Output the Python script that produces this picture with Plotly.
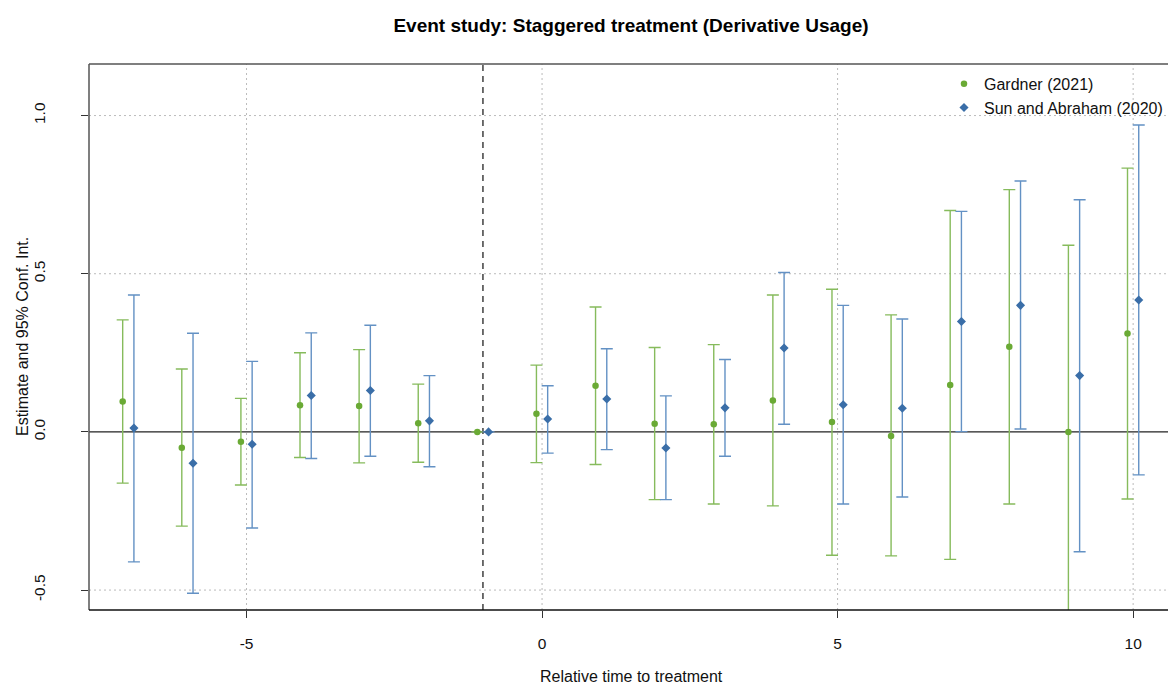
import plotly.graph_objects as go

periods = [-7, -6, -5, -4, -3, -2, -1, 0, 1, 2, 3, 4, 5, 6, 7, 8, 9, 10]

gardner_est = [0.096, -0.050, -0.031, 0.084, 0.082, 0.027, 0.0, 0.057, 0.146, 0.026, 0.024, 0.099, 0.031, -0.013, 0.148, 0.269, 0.0, 0.311]
gardner_hi = [0.354, 0.199, 0.106, 0.250, 0.260, 0.151, 0.0, 0.211, 0.395, 0.267, 0.276, 0.433, 0.451, 0.370, 0.700, 0.766, 0.590, 0.834]
gardner_lo = [-0.162, -0.298, -0.168, -0.081, -0.098, -0.096, 0.0, -0.097, -0.103, -0.214, -0.228, -0.234, -0.390, -0.392, -0.403, -0.228, -0.640, -0.212]

sa_est = [0.012, -0.099, -0.039, 0.115, 0.131, 0.035, 0.0, 0.041, 0.104, -0.051, 0.076, 0.265, 0.086, 0.075, 0.349, 0.400, 0.178, 0.417]
sa_hi = [0.433, 0.312, 0.223, 0.313, 0.337, 0.178, 0.0, 0.146, 0.263, 0.114, 0.229, 0.504, 0.400, 0.357, 0.697, 0.793, 0.734, 0.970]
sa_lo = [-0.411, -0.510, -0.304, -0.084, -0.077, -0.110, 0.0, -0.067, -0.056, -0.214, -0.077, 0.024, -0.228, -0.206, 0.001, 0.009, -0.379, -0.136]

x_ticks = [-5, 0, 5, 10]
y_ticks = [-0.5, 0.0, 0.5, 1.0]
y_tick_text = ["-0.5", "0.0", "0.5", "1.0"]
offset = 0.095

GREEN_PT = "#6aaa35"
GREEN_BAR = "#86bb5c"
BLUE_PT = "#3a6ea8"
BLUE_BAR = "#6391c4"

fig = go.Figure()

fig.add_trace(go.Scatter(
    x=[p - offset for p in periods], y=gardner_est, mode="markers",
    name="Gardner (2021)",
    marker=dict(symbol="circle", size=6.5, color=GREEN_PT),
    error_y=dict(type="data", symmetric=False,
                 array=[h - e for h, e in zip(gardner_hi, gardner_est)],
                 arrayminus=[e - l for e, l in zip(gardner_est, gardner_lo)],
                 color=GREEN_BAR, thickness=1.4, width=6),
))
fig.add_trace(go.Scatter(
    x=[p + offset for p in periods], y=sa_est, mode="markers",
    name="Sun and Abraham (2020)",
    marker=dict(symbol="diamond", size=7, color=BLUE_PT),
    error_y=dict(type="data", symmetric=False,
                 array=[h - e for h, e in zip(sa_hi, sa_est)],
                 arrayminus=[e - l for e, l in zip(sa_est, sa_lo)],
                 color=BLUE_BAR, thickness=1.4, width=6),
))

# zero line and reference line
fig.add_hline(y=0, line=dict(color="#222222", width=1.3), layer="below")
fig.add_vline(x=-1, line=dict(color="#222222", width=1.3, dash="6px,5px"), layer="below")

# grid lines (dotted)
for xv in x_ticks:
    fig.add_vline(x=xv, line=dict(color="#bbbbbb", width=1, dash="2px,3px"), layer="below")
for yv in [-0.5, 0.5, 1.0]:
    fig.add_hline(y=yv, line=dict(color="#bbbbbb", width=1, dash="2px,3px"), layer="below")

# box: left, top (grey), bottom (black)
fig.add_shape(type="line", xref="paper", yref="paper", x0=0, x1=0, y0=0, y1=1,
              line=dict(color="#555555", width=1.5))
fig.add_shape(type="line", xref="paper", yref="paper", x0=0, x1=1, y0=1, y1=1,
              line=dict(color="#555555", width=1.5))
fig.add_shape(type="line", xref="paper", yref="paper", x0=0, x1=1, y0=0, y1=0,
              line=dict(color="#111111", width=1.5))

fig.update_layout(
    width=1168, height=685,
    margin=dict(l=89, r=0, t=64, b=75),
    paper_bgcolor="white", plot_bgcolor="white",
    font=dict(family="Liberation Sans, Arial, sans-serif", size=15.5, color="#111111"),
    title=dict(text="<b>Event study: Staggered treatment (Derivative Usage)</b>",
               x=631 / 1168, xanchor="center", xref="container",
               y=1 - 25 / 685, yanchor="middle", yref="container",
               font=dict(size=19, color="#000000")),
    showlegend=True,
    legend=dict(x=1.0, xanchor="right", y=0.995, yanchor="top",
                bgcolor="rgba(0,0,0,0)", font=dict(size=16),
                tracegroupgap=0),
    xaxis=dict(range=[-7.665, 10.59], showgrid=False, zeroline=False,
               tickmode="array", tickvals=x_ticks, ticktext=[str(v) for v in x_ticks],
               ticks="outside", ticklen=7, tickcolor="#333333", tickwidth=1.3,
               ticklabelstandoff=12, showline=False),
    yaxis=dict(range=[-0.563, 1.163], showgrid=False, zeroline=False,
               tickmode="array", tickvals=y_ticks, ticktext=y_tick_text,
               ticks="outside", ticklen=7, tickcolor="#333333", tickwidth=1.3,
               tickangle=-90, ticklabelstandoff=30, showline=False),
    annotations=[
        dict(text="Relative time to treatment", xref="paper", yref="paper",
             x=(631 - 89) / 1079, y=0, yshift=-66, showarrow=False,
             xanchor="center", yanchor="middle", font=dict(size=16)),
        dict(text="Estimate and 95% Conf. Int.", xref="paper", yref="paper",
             x=0, xshift=-67, y=0.5, showarrow=False, textangle=-90,
             xanchor="center", yanchor="middle", font=dict(size=16)),
    ],
)

fig.write_html("out.html")
